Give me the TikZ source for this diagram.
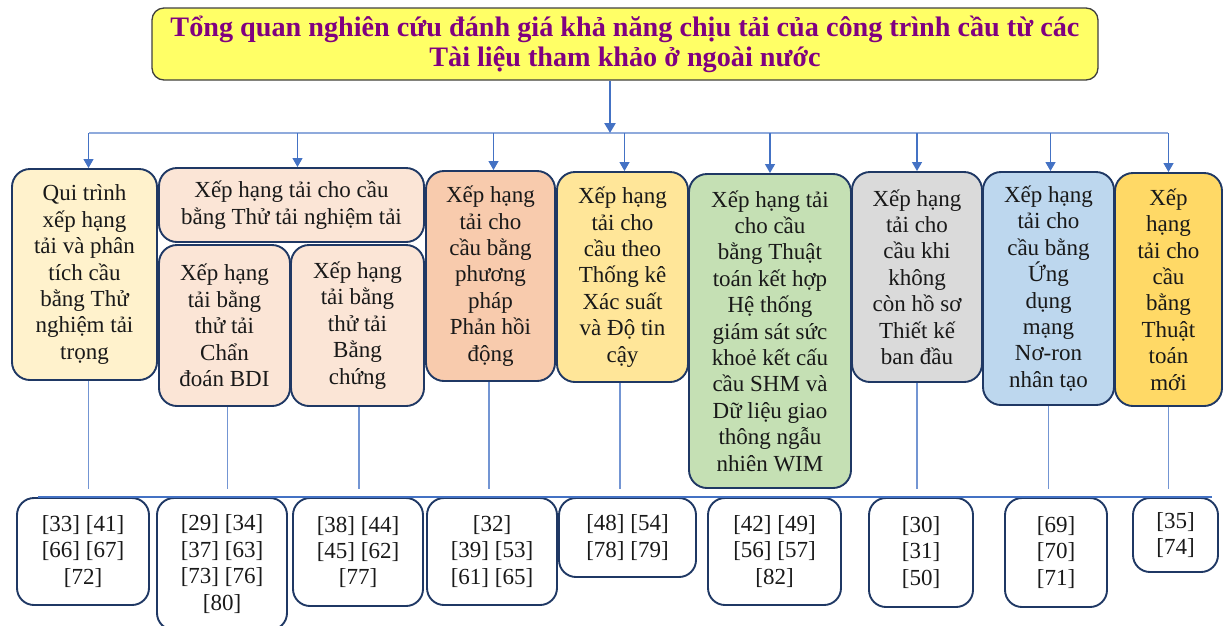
\documentclass[tikz,border=0pt]{standalone}
\usepackage{fontspec}
\setmainfont{Liberation Serif}
\usetikzlibrary{arrows.meta}
\definecolor{navy}{HTML}{1F3864}
\definecolor{linkblue}{HTML}{4472C4}
\definecolor{buslight}{HTML}{8FAADC}
\definecolor{titlefill}{HTML}{FFFF66}
\definecolor{titletext}{HTML}{800080}
\definecolor{cqui}{HTML}{FFF2CC}
\definecolor{cload}{HTML}{FBE5D6}
\definecolor{cdyn}{HTML}{F8CBAD}
\definecolor{cstat}{HTML}{FFE699}
\definecolor{cshm}{HTML}{C5E0B4}
\definecolor{cnodoc}{HTML}{DADADA}
\definecolor{cann}{HTML}{BDD7EE}
\definecolor{cnew}{HTML}{FFD966}
\tikzset{
  box/.style={draw=navy, line width=1.9pt, rounded corners=18pt, inner sep=0pt,
    align=center, font=\fontsize{23}{26.4}\selectfont, text=black!90},
  refbox/.style={box, fill=white, rounded corners=17pt},
  feed/.style={draw=linkblue, line width=1.1pt, -{Triangle[width=10pt,length=9pt]}},
  drop/.style={draw=linkblue!75, line width=1.1pt},
}
\begin{document}
\begin{tikzpicture}[x=1pt,y=-1pt]
\useasboundingbox (0,0) rectangle (1224,625);

% main title
\node[draw=black!75, line width=1.3pt, fill=titlefill, rounded corners=12pt,
  minimum width=946pt, minimum height=72pt, inner sep=0pt, align=center,
  text=titletext, font=\fontsize{28.2}{30}\selectfont\bfseries]
  (title) at (625,44) {Tổng quan nghiên cứu đánh giá khả năng chịu tải của công trình cầu từ các\\Tài liệu tham khảo ở ngoài nước};

% category boxes
\node[box, fill=cqui, minimum width=145pt, minimum height=211pt] (qui) at (84.5,274.5)
  {Qui trình\\xếp hạng\\tải và phân\\tích cầu\\bằng Thử\\nghiệm tải\\trọng};
\node[box, fill=cload, minimum width=265pt, minimum height=74pt] (load) at (291.5,205)
  {Xếp hạng tải cho cầu\\bằng Thử tải nghiệm tải};
\node[box, fill=cload, minimum width=131pt, minimum height=161pt] (bdi) at (224.5,325.5)
  {Xếp hạng\\tải bằng\\thử tải\\Chẩn\\đoán BDI};
\node[box, fill=cload, minimum width=133pt, minimum height=161pt] (proof) at (357.5,325.5)
  {Xếp hạng\\tải bằng\\thử tải\\Bằng\\chứng};
\node[box, fill=cdyn, minimum width=129pt, minimum height=210pt] (dyn) at (490.5,276)
  {Xếp hạng\\tải cho\\cầu bằng\\phương\\pháp\\Phản hồi\\động};
\node[box, fill=cstat, minimum width=131pt, minimum height=210pt] (stat) at (622.5,277)
  {Xếp hạng\\tải cho\\cầu theo\\Thống kê\\Xác suất\\và Độ tin\\cậy};
\node[box, fill=cshm, minimum width=162pt, minimum height=314pt] (shm) at (770,331)
  {Xếp hạng tải\\cho cầu\\bằng Thuật\\toán kết hợp\\Hệ thống\\giám sát sức\\khoẻ kết cấu\\cầu SHM và\\Dữ liệu giao\\thông ngẫu\\nhiên WIM};
\node[box, fill=cnodoc, minimum width=130pt, minimum height=210pt] (nodoc) at (917,277)
  {Xếp hạng\\tải cho\\cầu khi\\không\\còn hồ sơ\\Thiết kế\\ban đầu};
\node[box, fill=cann, minimum width=131pt, minimum height=233pt] (ann) at (1048.5,288.5)
  {Xếp hạng\\tải cho\\cầu bằng\\Ứng\\dụng\\mạng\\Nơ-ron\\nhân tạo};
\node[box, fill=cnew, minimum width=107pt, minimum height=233pt] (newalg) at (1168.5,289.5)
  {Xếp\\hạng\\tải cho\\cầu\\bằng\\Thuật\\toán\\mới};

% reference lists
\node[refbox, minimum width=132pt, minimum height=107pt] (r1) at (83,551.5) {[33] [41]\\{}[66] [67]\\{}[72]};
\node[refbox, minimum width=130pt, minimum height=132pt] (r2) at (222,564) {[29] [34]\\{}[37] [63]\\{}[73] [76]\\{}[80]};
\node[refbox, minimum width=130pt, minimum height=108pt] (r3) at (358,552) {[38] [44]\\{}[45] [62]\\{}[77]};
\node[refbox, minimum width=130pt, minimum height=107pt] (r4) at (492,551.5) {[32]\\{}[39] [53]\\{}[61] [65]};
\node[refbox, minimum width=137pt, minimum height=79pt] (r5) at (627.5,537.5) {[48] [54]\\{}[78] [79]};
\node[refbox, minimum width=133pt, minimum height=107pt] (r6) at (774.5,551.5) {[42] [49]\\{}[56] [57]\\{}[82]};
\node[refbox, minimum width=104pt, minimum height=109pt] (r7) at (921,552.5) {[30]\\{}[31]\\{}[50]};
\node[refbox, minimum width=102pt, minimum height=109pt] (r8) at (1056,552.5) {[69]\\{}[70]\\{}[71]};
\node[refbox, minimum width=85pt, minimum height=74pt] (r9) at (1175.5,535) {[35]\\{}[74]};

% distribution bus below the title
\coordinate (bus) at (610,133);
\coordinate (busL) at (89,133);
\coordinate (busR) at (1168,133);
\draw[buslight, line width=2pt] (busL) -- (busR);
\draw[draw=linkblue, line width=2.6pt, -{Triangle[width=11pt,length=10pt]}] (title.south -| bus) -- (bus);
\draw[feed] ([xshift=4pt]qui.north |- bus) -- ([xshift=4pt]qui.north);
\draw[feed] ([xshift=6pt]load.north |- bus) -- ([xshift=6pt]load.north);
\draw[feed] ([xshift=3pt]dyn.north |- bus) -- ([xshift=3pt]dyn.north);
\draw[feed] ([xshift=2pt]stat.north |- bus) -- ([xshift=2pt]stat.north);
\draw[feed] (shm.north |- bus) -- (shm.north);
\draw[feed] (nodoc.north |- bus) -- (nodoc.north);
\draw[feed] ([xshift=2pt]ann.north |- bus) -- ([xshift=2pt]ann.north);
\draw[feed] (newalg.north |- bus) -- (newalg.north);

% drop lines towards the reference bus
\coordinate (low) at (0,489);
\draw[drop] ([xshift=4pt]qui.south) -- ([xshift=4pt]qui.south |- low);
\draw[drop] ([xshift=3pt]bdi.south) -- ([xshift=3pt]bdi.south |- low);
\draw[drop] ([xshift=1.5pt]proof.south) -- ([xshift=1.5pt]proof.south |- low);
\draw[drop] ([xshift=-1.5pt]dyn.south) -- ([xshift=-1.5pt]dyn.south |- low);
\draw[drop] ([xshift=-2.5pt]stat.south) -- ([xshift=-2.5pt]stat.south |- low);
\draw[drop] (nodoc.south) -- (nodoc.south |- low);
\draw[drop] (ann.south) -- (ann.south |- low);
\draw[drop] (newalg.south) -- (newalg.south |- low);

% reference bus
\coordinate (refL) at (38,497);
\coordinate (refR) at (1212,497);
\draw[linkblue, line width=2.4pt] (refL) -- (refR);
\end{tikzpicture}
\end{document}
